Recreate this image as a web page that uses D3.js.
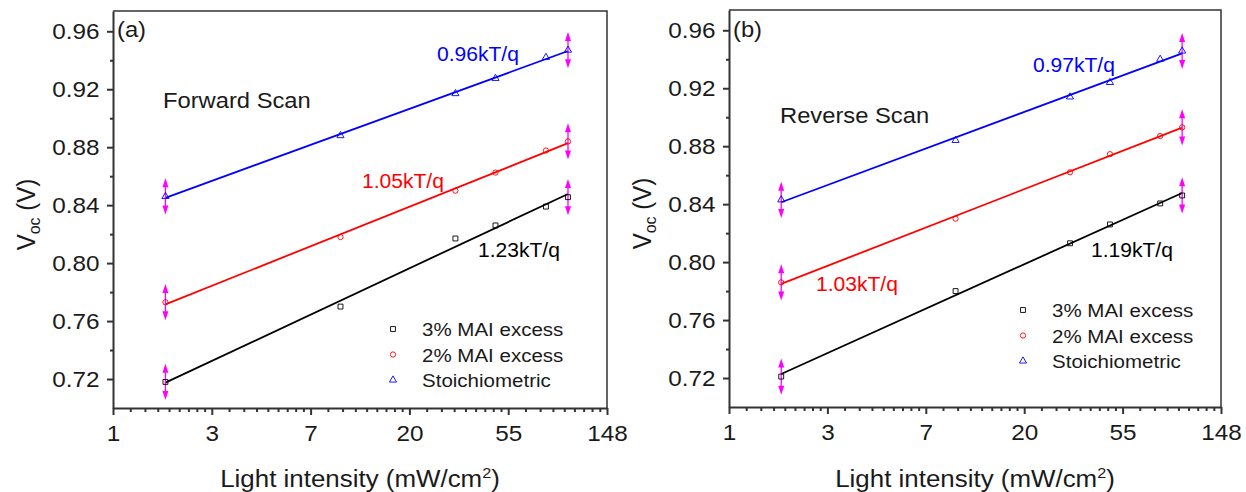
<!DOCTYPE html>
<html>
<head>
<meta charset="utf-8">
<script src="https://cdn.jsdelivr.net/npm/d3@7"></script>
<style>
  body { margin: 0; background: #fff; }
  text { font-family: "Liberation Sans", Arial, sans-serif; }
</style>
</head>
<body>
<div id="chart"></div>
<script>
// data
const intensity = [1.7, 10, 32, 48, 80, 100]; // mW/cm2
const xTickLabels = ["1", "3", "7", "20", "55", "148"];
const yTicks = [0.72, 0.76, 0.80, 0.84, 0.88, 0.92, 0.96];
const yMinorTicks = [0.74, 0.78, 0.82, 0.86, 0.90, 0.94];
const seriesNames = ["3% MAI excess", "2% MAI excess", "Stoichiometric"];

// forward scan Voc (V)
const fwd3 = [0.718, 0.770, 0.817, 0.826, 0.839, 0.8455];
const fwd2 = [0.773, 0.818, 0.850, 0.8625, 0.8777, 0.884];
const fwdStoi = [0.846, 0.888, 0.917, 0.9275, 0.942, 0.947];
// reverse scan Voc (V)
const rev3 = [0.721, 0.780, 0.813, 0.826, 0.8405, 0.846];
const rev2 = [0.786, 0.830, 0.862, 0.8745, 0.887, 0.893];
const revStoi = [0.843, 0.884, 0.914, 0.924, 0.940, 0.9457];
// error bars, only first and last point
const vocError = [0.0125, null, null, null, null, 0.0125];

const slopeLabelsFwd = ["1.23kT/q", "1.05kT/q", "0.96kT/q"];
const slopeLabelsRev = ["1.19kT/q", "1.03kT/q", "0.97kT/q"];

// vars
const W = 1246, H = 492;
const SX = 1.08; // text in the picture is slightly wide
const colors = ["#000000", "#ff0000", "#0000ff"];
const symbols = [d3.symbolSquare, d3.symbolCircle, d3.symbolTriangle];
const symSizes = [24, 22, 22];
const errColor = "#ff00ff";
const axisColor = "#333";
const textColor = "#1a1a1a";

const panels = [
  {left: 113, right: 607, top: 11, bottom: 408, tag: "(a)", scan: "Forward Scan",
    series: [fwd3, fwd2, fwdStoi], slopes: slopeLabelsFwd,
    tagPos: [117, 37], scanPos: [163, 108], yTitleX: 35,
    slopePos: [[478, 257], [362, 188], [437, 61]], legend: [393, 422, 336]},
  {left: 729, right: 1221, top: 10, bottom: 407, tag: "(b)", scan: "Reverse Scan",
    series: [rev3, rev2, revStoi], slopes: slopeLabelsRev,
    tagPos: [733, 37], scanPos: [780, 123], yTitleX: 651,
    slopePos: [[1091, 257], [816, 291], [1033, 72]], legend: [1023, 1052, 317]}
];

let svg = d3.select("#chart")
  .append("svg")
  .attr("width", W)
  .attr("height", H);

panels.forEach(drawPanel);

/**
 * Put a text at x,y, stretched a bit horizontally.
 */
function label(g, x, y, str, size, color, anchor) {
  return g.append("text")
    .attr("transform", "translate(" + x + "," + y + ") scale(" + SX + ",1)")
    .attr("text-anchor", anchor || "start")
    .style("font-size", size + "px")
    .style("fill", color || textColor)
    .text(str);
}

/**
 * Least squares fit of Voc against ln(intensity).
 */
function fitLine(xs, ys) {
  let lx = xs.map(Math.log);
  let mx = d3.mean(lx), my = d3.mean(ys);
  let b = d3.sum(lx, (v, i) => (v - mx) * (ys[i] - my)) / d3.sum(lx, v => (v - mx) * (v - mx));
  return [my - b * mx, b];
}

/**
 * Draw one panel.
 */
function drawPanel(p) {
  let x = d3.scaleLog().base(Math.E).domain([1, Math.exp(5)]).range([p.left, p.right]);
  let y = d3.scaleLinear().domain([0.70, 0.974]).range([p.bottom, p.top]);
  let g = svg.append("g");

  // frame top + right
  g.append("path")
    .attr("d", "M" + p.left + "," + p.top + "H" + p.right + "V" + p.bottom)
    .attr("fill", "none")
    .attr("stroke", axisColor)
    .attr("stroke-width", 1.5);

  // x axis
  let xMajor = d3.range(6).map(n => Math.exp(n));
  let xMinor = [];
  for (let n = 0; n < 5; n++) {
    let a = Math.exp(n), b = Math.exp(n + 1);
    for (let k = 1; k < 9; k++) xMinor.push(a + k * (b - a) / 9);
  }
  g.append("g")
    .attr("transform", "translate(0," + p.bottom + ")")
    .call(d3.axisBottom(x).tickValues(xMinor).tickSize(4).tickSizeOuter(0).tickFormat(""))
    .call(s => s.select(".domain").remove());
  let xAx = g.append("g")
    .attr("transform", "translate(0," + p.bottom + ")")
    .call(d3.axisBottom(x).tickValues(xMajor).tickSize(7).tickPadding(10).tickSizeOuter(0)
      .tickFormat((d, i) => xTickLabels[i]));
  xAx.selectAll("text")
    .attr("transform", "scale(" + SX + ",1)")
    .style("font-size", "22.5px")
    .style("fill", textColor);

  // y axis
  g.append("g")
    .attr("transform", "translate(" + p.left + ",0)")
    .call(d3.axisLeft(y).tickValues(yMinorTicks).tickSize(3).tickSizeOuter(0).tickFormat(""))
    .call(s => s.select(".domain").remove());
  let yAx = g.append("g")
    .attr("transform", "translate(" + p.left + ",0)")
    .call(d3.axisLeft(y).tickValues(yTicks).tickSize(6).tickPadding(6.5).tickSizeOuter(0)
      .tickFormat(d3.format(".2f")));
  yAx.selectAll("text")
    .attr("transform", "scale(" + SX + ",1)")
    .style("font-size", "22.5px")
    .style("fill", textColor);

  g.selectAll(".tick line, .domain")
    .attr("stroke", axisColor)
    .attr("stroke-width", 2);

  // axis titles
  let xt = label(g, (p.left + p.right) / 2, 487, "Light intensity (mW/cm", 24, textColor, "middle");
  xt.append("tspan").attr("dy", -9).style("font-size", "15px").text("2");
  xt.append("tspan").attr("dy", 9).text(")");

  let yt = g.append("text")
    .attr("transform", "translate(" + p.yTitleX + "," + ((p.top + p.bottom) / 2 + 5) + ") scale(" + SX + ",1) rotate(-90)")
    .attr("text-anchor", "middle")
    .style("font-size", "24px")
    .style("fill", textColor)
    .text("V");
  yt.append("tspan").attr("dy", 5).style("font-size", "16px").text("oc");
  yt.append("tspan").attr("dy", -5).text(" (V)");

  // fit lines
  p.series.forEach((vals, si) => {
    let [a, b] = fitLine(intensity, vals);
    let x0 = intensity[0], x1 = intensity[intensity.length - 1];
    g.append("line")
      .attr("x1", x(x0)).attr("y1", y(a + b * Math.log(x0)))
      .attr("x2", x(x1)).attr("y2", y(a + b * Math.log(x1)))
      .attr("stroke", colors[si])
      .attr("stroke-width", 1.8);
  });

  // error bars with arrow heads
  p.series.forEach((vals) => {
    vals.forEach((v, i) => {
      if (vocError[i] == null) return;
      let cx = x(intensity[i]);
      let yTop = y(v + vocError[i]), yBot = y(v - vocError[i]);
      g.append("line")
        .attr("x1", cx).attr("x2", cx)
        .attr("y1", yTop + 4).attr("y2", yBot - 4)
        .attr("stroke", errColor)
        .attr("stroke-width", 1.3);
      g.append("path")
        .attr("d", "M" + cx + "," + yTop + "L" + (cx - 3) + "," + (yTop + 9) + "L" + (cx + 3) + "," + (yTop + 9) + "Z")
        .attr("fill", errColor);
      g.append("path")
        .attr("d", "M" + cx + "," + yBot + "L" + (cx - 3) + "," + (yBot - 9) + "L" + (cx + 3) + "," + (yBot - 9) + "Z")
        .attr("fill", errColor);
    });
  });

  // markers
  p.series.forEach((vals, si) => {
    g.append("g").selectAll("path").data(vals).join("path")
      .attr("transform", (d, i) => "translate(" + x(intensity[i]) + "," + y(d) + ")")
      .attr("d", d3.symbol().type(symbols[si]).size(symSizes[si]))
      .attr("fill", "none")
      .attr("stroke", colors[si])
      .attr("stroke-width", 0.9);
  });

  // labels
  label(g, p.tagPos[0], p.tagPos[1], p.tag, 22);
  label(g, p.scanPos[0], p.scanPos[1], p.scan, 22);
  p.slopes.forEach((s, si) => {
    label(g, p.slopePos[si][0], p.slopePos[si][1], s, 19.5, colors[si]);
  });

  // legend
  seriesNames.forEach((name, si) => {
    let by = p.legend[2] + si * 25.5;
    g.append("path")
      .attr("transform", "translate(" + p.legend[0] + "," + (by - 7) + ")")
      .attr("d", d3.symbol().type(symbols[si]).size(symSizes[si]))
      .attr("fill", "none")
      .attr("stroke", colors[si])
      .attr("stroke-width", 0.9);
    label(g, p.legend[1], by, name, 19);
  });
}
</script>
</body>
</html>
